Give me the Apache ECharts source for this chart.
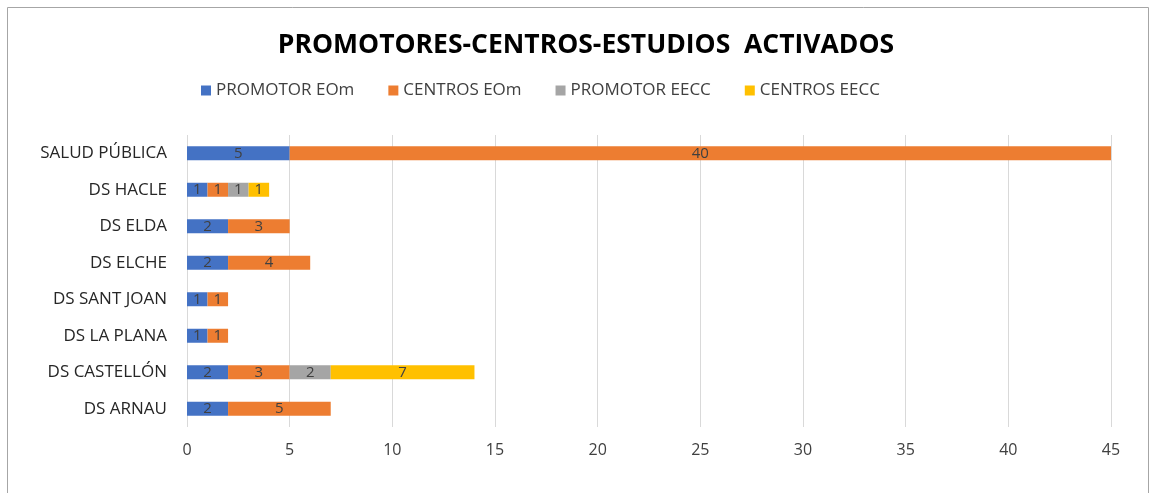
<!DOCTYPE html>
<html>
<head>
<meta charset="utf-8">
<script src="https://cdn.jsdelivr.net/npm/echarts@6/dist/echarts.min.js"></script>
<style>
  html, body { margin: 0; padding: 0; background: #fff; }
  #chart { width: 1152px; height: 493px; }
</style>
</head>
<body>
<div id="chart"></div>
<script>
const categories = [
  "DS ARNAU", "DS CASTELLÓN", "DS LA PLANA", "DS SANT JOAN",
  "DS ELCHE", "DS ELDA", "DS HACLE", "SALUD PÚBLICA"
];
const promotorEOm = [2, 2, 1, 1, 2, 2, 1, 5];
const centrosEOm = [5, 3, 1, 1, 4, 3, 1, 40];
const promotorEECC = [0, 2, 0, 0, 0, 0, 1, 0];
const centrosEECC = [0, 7, 0, 0, 0, 0, 1, 0];
const xTicks = [0, 45, 5];

const FONT = "Open Sans";

function makeSeries(name, data, color) {
  return {
    name,
    type: "bar",
    stack: "total",
    data,
    barWidth: 14,
    itemStyle: { color },
    label: {
      show: true,
      position: "inside",
      color: "#404040",
      fontFamily: FONT,
      fontSize: 15,
      formatter: (p) => (p.value ? String(p.value) : "")
    }
  };
}

const chart = echarts.init(document.getElementById("chart"), null, { renderer: "canvas" });

chart.setOption({
  animation: false,
  backgroundColor: "#fff",
  title: {
    text: "PROMOTORES-CENTROS-ESTUDIOS  ACTIVADOS",
    left: 581,
    textAlign: "center",
    top: 27,
    textStyle: { fontFamily: FONT, fontSize: 26.5, fontWeight: "bold", color: "#000" }
  },
  legend: {
    left: 196,
    top: 77,
    itemWidth: 10,
    itemHeight: 10,
    itemGap: 34,
    icon: "rect",
    textStyle: { fontFamily: FONT, fontSize: 17, color: "#404040" },
    data: ["PROMOTOR EOm", "CENTROS EOm", "PROMOTOR EECC", "CENTROS EECC"]
  },
  graphic: [{
    type: "rect",
    shape: { x: 7.5, y: 7.5, width: 1141, height: 500 },
    style: { fill: null, stroke: "#a6a6a6", lineWidth: 1 },
    silent: true
  }],
  grid: { left: 187, right: 41, top: 135, bottom: 66, containLabel: false },
  xAxis: {
    type: "value",
    min: xTicks[0],
    max: xTicks[1],
    interval: xTicks[2],
    axisLine: { show: false },
    axisTick: { show: false },
    splitLine: { lineStyle: { color: "#d9d9d9" } },
    axisLabel: { fontFamily: FONT, fontSize: 16, color: "#404040", margin: 15 }
  },
  yAxis: {
    type: "category",
    data: categories,
    axisLine: { show: false },
    axisTick: { show: false },
    axisLabel: { fontFamily: FONT, fontSize: 17, color: "#262626", margin: 20 }
  },
  series: [
    makeSeries("PROMOTOR EOm", promotorEOm, "#4472C4"),
    makeSeries("CENTROS EOm", centrosEOm, "#ED7D31"),
    makeSeries("PROMOTOR EECC", promotorEECC, "#A5A5A5"),
    makeSeries("CENTROS EECC", centrosEECC, "#FFC000")
  ]
});
</script>
</body>
</html>
